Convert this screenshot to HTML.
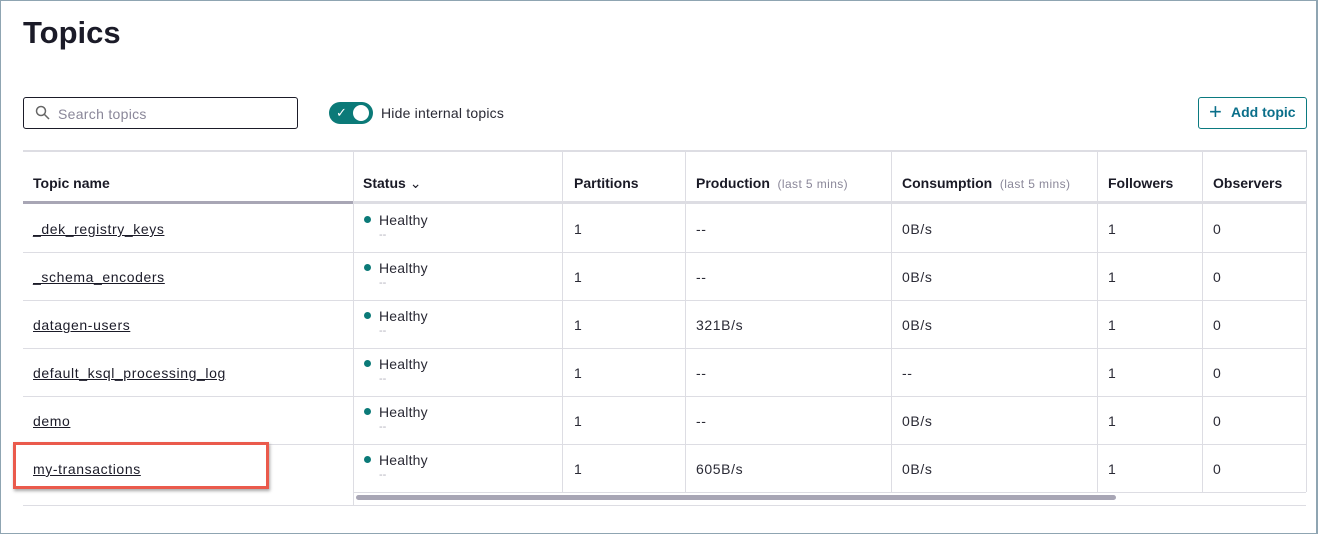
<!DOCTYPE html>
<html><head><style>
*{box-sizing:border-box;margin:0;padding:0}
body{width:1318px;height:534px;background:#fff;font-family:"Liberation Sans",sans-serif;position:relative;overflow:hidden;color:#1a1a26}
.frame{position:absolute;left:0;top:0;width:1318px;height:534px;border:1px solid #8fa5b2;border-right:2px solid #8fa5b2}
.a{position:absolute;white-space:nowrap}
h1{position:absolute;left:23px;top:15px;font-size:31px;font-weight:bold;color:#1b1b28}
.search{left:23px;top:97px;width:275px;height:32px;border:1px solid #1b1b28;border-radius:3px}
.vl{position:absolute;width:1px;background:#dddde3}
.hl{position:absolute;height:1px;background:#dddde3;left:23px;width:1283px}
.hd{font-size:14px;font-weight:bold;top:175px}
.sub{font-weight:normal;color:#8a8799;font-size:12px;letter-spacing:0.4px}
.c{font-size:14px;color:#2a2a35;letter-spacing:0.6px}
.lk{text-decoration:underline;color:#1b1b28}
.dot{position:absolute;width:7px;height:7px;border-radius:50%;background:#0b7a78}
.dash{color:#b0afbb;font-size:11px}
</style></head><body>
<div class="frame"></div>
<h1>Topics</h1>
<div class="a search"></div>
<svg class="a" style="left:35px;top:105px" width="16" height="16"><circle cx="6" cy="6" r="4.5" fill="none" stroke="#666" stroke-width="1.5"/><line x1="9.5" y1="9.5" x2="14" y2="14" stroke="#666" stroke-width="1.5"/></svg>
<div class="a" style="left:58px;top:106px;font-size:14px;color:#8a8799;letter-spacing:0.3px">Search topics</div>
<div class="a" style="left:329px;top:102px;width:44px;height:22px;border-radius:11px;background:#0b7a78"></div>
<div class="a" style="left:353px;top:105px;width:16px;height:16px;border-radius:50%;background:#fff"></div>
<div class="a" style="left:336px;top:105px;color:#fff;font-size:13px">✓</div>
<div class="a" style="left:381px;top:105px;font-size:14px;color:#2a2a35;letter-spacing:0.2px">Hide internal topics</div>
<div class="a" style="left:1198px;top:97px;width:109px;height:32px;border:1px solid #0b7a80;border-radius:3px"></div>
<div class="a" style="left:1209px;top:99px;font-size:22px;color:#0a6f8a">+</div>
<div class="a" style="left:1231px;top:104px;font-size:14px;font-weight:bold;color:#0a6f8a">Add topic</div>

<div class="hl" style="top:150px;height:2px"></div>
<div class="a" style="left:23px;top:201px;width:1283px;height:3px;background:#dddde3"></div>
<div class="a" style="left:23px;top:201px;width:330px;height:3px;background:#a8a6b5"></div>
<div class="hl" style="top:252px"></div><div class="hl" style="top:300px"></div><div class="hl" style="top:348px"></div><div class="hl" style="top:396px"></div><div class="hl" style="top:444px"></div>
<div class="hl" style="top:492px;left:353px;width:953px"></div>
<div class="hl" style="top:505px"></div>
<div class="vl" style="left:353px;top:150px;height:355px"></div>
<div class="vl" style="left:562px;top:150px;height:342px"></div>
<div class="vl" style="left:685px;top:150px;height:342px"></div>
<div class="vl" style="left:891px;top:150px;height:342px"></div>
<div class="vl" style="left:1097px;top:150px;height:342px"></div>
<div class="vl" style="left:1202px;top:150px;height:342px"></div>
<div class="vl" style="left:1306px;top:150px;height:342px"></div>
<div class="a" style="left:356px;top:495px;width:760px;height:5px;border-radius:3px;background:#a8a6b5"></div>

<div class="a hd" style="left:33px">Topic name</div>
<div class="a hd" style="left:363px">Status <span style="font-weight:normal">&#8964;</span></div>
<div class="a hd" style="left:574px">Partitions</div>
<div class="a hd" style="left:696px">Production <span class="sub">&nbsp;(last 5 mins)</span></div>
<div class="a hd" style="left:902px">Consumption <span class="sub">&nbsp;(last 5 mins)</span></div>
<div class="a hd" style="left:1108px">Followers</div>
<div class="a hd" style="left:1213px">Observers</div>

<div id="rows"></div>
<script>
var d=[["_dek_registry_keys","--","0B/s"],["_schema_encoders","--","0B/s"],["datagen-users","321B/s","0B/s"],["default_ksql_processing_log","--","--"],["demo","--","0B/s"],["my-transactions","605B/s","0B/s"]];
var h="";d.forEach(function(r,i){var y=252+48*i;
h+='<div class="a c lk" style="left:33px;top:'+(y-31)+'px">'+r[0]+'</div>';
h+='<div class="dot" style="left:364px;top:'+(y-36)+'px"></div><div class="a c" style="left:379px;top:'+(y-40)+'px;letter-spacing:0.2px">Healthy</div><div class="a dash" style="left:379px;top:'+(y-23)+'px">--</div>';
h+='<div class="a c" style="left:574px;top:'+(y-31)+'px">1</div>';
h+='<div class="a c" style="left:696px;top:'+(y-31)+'px">'+r[1]+'</div>';
h+='<div class="a c" style="left:902px;top:'+(y-31)+'px">'+r[2]+'</div>';
h+='<div class="a c" style="left:1108px;top:'+(y-31)+'px">1</div>';
h+='<div class="a c" style="left:1213px;top:'+(y-31)+'px">0</div>';});
document.getElementById("rows").innerHTML=h;
</script>
<div class="a" style="left:13px;top:442px;width:256px;height:47px;border:3px solid #ea5a4c;box-shadow:1px 2px 3px rgba(0,0,0,.35)"></div>
</body></html>
